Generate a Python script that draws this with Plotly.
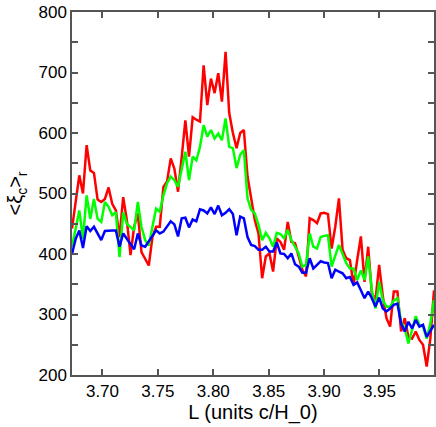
import numpy as np
import plotly.graph_objects as go

# L grid (units c/H_0), evenly sampled
L_START = 3.6725
L_STEP = 0.0033
N_POINTS = 100
L_values = np.round(L_START + L_STEP * np.arange(N_POINTS), 4)

xi_red = [
    442, 488, 530, 500, 580, 538, 534, 490, 486, 491,
    510, 483, 472, 428, 494, 456, 398, 445, 467, 403,
    392, 381, 428, 445, 445, 511, 520, 558, 541, 503,
    560, 621, 561, 626, 622, 619, 712, 646, 690, 666,
    699, 652, 734, 633, 600, 575, 600, 605, 528, 495,
    456, 434, 360, 396, 401, 371, 426, 420, 407, 453,
    420, 418, 396, 374, 363, 459, 456, 451, 467, 468,
    466, 409, 445, 492, 407, 393, 390, 349, 390, 429,
    354, 412, 335, 324, 382, 330, 294, 280, 338, 338,
    272, 294, 263, 260, 272, 258, 250, 214, 260, 340,
]

xi_green = [
    412, 440, 472, 425, 497, 458, 491, 458, 453, 486,
    478, 464, 469, 395, 469, 450, 445, 439, 486, 445,
    423, 414, 445, 475, 470, 497, 517, 528, 522, 511,
    540, 569, 522, 561, 555, 577, 613, 594, 605, 591,
    599, 588, 624, 577, 575, 542, 564, 572, 492, 473,
    467, 448, 423, 435, 426, 412, 435, 433, 426, 440,
    423, 412, 401, 379, 382, 434, 412, 409, 428, 430,
    431, 379, 396, 415, 400, 385, 376, 376, 357, 373,
    357, 396, 340, 310, 354, 324, 313, 313, 323, 327,
    288, 277, 252, 274, 297, 283, 280, 260, 285, 324,
]

xi_blue = [
    400, 425, 439, 410, 446, 438, 445, 435, 423, 438,
    439, 439, 439, 412, 434, 425, 415, 408, 434, 414,
    412, 420, 430, 439, 434, 437, 445, 454, 449, 429,
    459, 460, 444, 457, 454, 474, 472, 467, 477, 466,
    480, 464, 468, 474, 466, 431, 462, 459, 428, 415,
    413, 407, 407, 412, 404, 404, 419, 401, 400, 393,
    401, 383, 379, 369, 369, 393, 376, 382, 388, 386,
    385, 360, 374, 371, 368, 360, 362, 349, 353, 340,
    327, 338, 327, 313, 328, 310, 305, 310, 316, 318,
    285, 272, 288, 277, 291, 280, 283, 263, 272, 283,
]

x_ticks = [3.70, 3.75, 3.80, 3.85, 3.90, 3.95]
x_ticktext = ["3.70", "3.75", "3.80", "3.85", "3.90", "3.95"]

fig = go.Figure()
for ys, col in [(xi_red, "#ff0000"), (xi_green, "#00ff00"), (xi_blue, "#0000ff")]:
    fig.add_trace(
        go.Scatter(
            x=L_values,
            y=ys,
            mode="lines",
            line=dict(color=col, width=2.5),
            showlegend=False,
        )
    )

axis_style = dict(
    showline=True,
    linecolor="#555555",
    linewidth=1.5,
    mirror="ticks",
    ticks="inside",
    ticklen=6,
    tickcolor="#555555",
    tickwidth=1.5,
    showgrid=False,
    zeroline=False,
    automargin=False,
    ticklabeloverflow="allow",
)

fig.update_layout(
    width=436,
    height=427,
    margin=dict(l=72, r=2, t=12, b=52),
    plot_bgcolor="white",
    paper_bgcolor="white",
    font=dict(family="Liberation Sans, Arial, sans-serif", size=17, color="black"),
    xaxis=dict(
        range=[3.6725, 3.9992],
        tickvals=x_ticks,
        ticktext=x_ticktext,
        title=dict(text="L (units c/H_0)", standoff=2),
        **axis_style,
    ),
    yaxis=dict(
        range=[200, 800],
        dtick=100,
        minor=dict(dtick=50, ticks="inside", ticklen=6, tickcolor="#555555", tickwidth=1.5),
        title=dict(text="<ξ<sub>c</sub>><sub>r</sub>", standoff=10),
        **axis_style,
    ),
)

# drop the default page margin so the figure fills the window exactly
fig.write_html(
    "out.html",
    config={"displayModeBar": False},
    post_script="document.body.style.margin='0';document.body.style.overflow='hidden';",
)
